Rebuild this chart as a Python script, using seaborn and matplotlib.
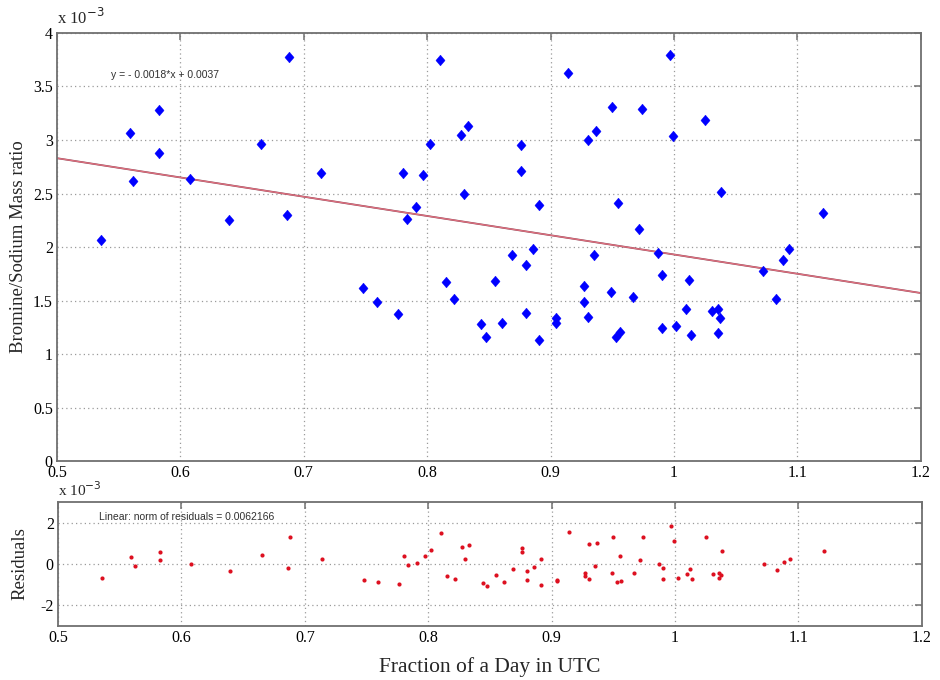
import numpy as np
import pandas as pd
import matplotlib
matplotlib.use("Agg")
import matplotlib.pyplot as plt
import seaborn as sns

# ---- data (ratio values are in units of 1e-3) ----
fraction_of_day = [
    0.536, 0.559, 0.562, 0.583, 0.583, 0.608, 0.639, 0.665, 0.688, 0.686,
    0.714, 0.748, 0.759, 0.776, 0.780, 0.784, 0.791, 0.797, 0.802, 0.810,
    0.815, 0.822, 0.827, 0.830, 0.833, 0.844, 0.848, 0.855, 0.861, 0.869,
    0.876, 0.876, 0.880, 0.880, 0.886, 0.891, 0.891, 0.904, 0.904, 0.914,
    0.927, 0.927, 0.930, 0.930, 0.935, 0.937, 0.949, 0.950, 0.953, 0.956,
    0.955, 0.967, 0.972, 0.974, 0.987, 0.990, 1.012, 1.010, 1.031, 1.036,
    1.037, 0.990, 1.002, 1.014, 1.036, 1.072, 1.088, 1.093, 1.083, 0.997,
    1.025, 0.999, 1.038, 1.121,
]
br_na_ratio_e3 = [
    2.07, 3.07, 2.62, 3.28, 2.88, 2.64, 2.25, 2.96, 3.78, 2.30,
    2.69, 1.62, 1.49, 1.37, 2.69, 2.26, 2.37, 2.67, 2.96, 3.75,
    1.67, 1.51, 3.05, 2.50, 3.13, 1.28, 1.16, 1.68, 1.29, 1.93,
    2.95, 2.71, 1.38, 1.83, 1.98, 2.39, 1.13, 1.34, 1.29, 3.63,
    1.64, 1.49, 3.00, 1.35, 1.93, 3.08, 1.58, 3.31, 1.16, 1.21,
    2.41, 1.53, 2.17, 3.29, 1.94, 1.74, 1.69, 1.42, 1.40, 1.42,
    1.34, 1.24, 1.26, 1.18, 1.20, 1.78, 1.88, 1.98, 1.51, 3.79,
    3.19, 3.04, 2.51, 2.32,
]
fit_slope_e3 = -1.8
fit_intercept_e3 = 3.73

x_ticks = [0.5, 0.6, 0.7, 0.8, 0.9, 1.0, 1.1, 1.2]
x_tick_labels = ["0.5", "0.6", "0.7", "0.8", "0.9", "1", "1.1", "1.2"]
y_ticks = [0, 0.5, 1, 1.5, 2, 2.5, 3, 3.5, 4]
y_tick_labels = ["0", "0.5", "1", "1.5", "2", "2.5", "3", "3.5", "4"]
res_ticks = [-2, 0, 2]
res_tick_labels = ["-2", "0", "2"]

fit_text = "y = - 0.0018*x + 0.0037"
norm_text = "Linear: norm of residuals = 0.0062166"

# ---- derived ----
df = pd.DataFrame({"x": fraction_of_day, "y": br_na_ratio_e3})
df["fit"] = fit_slope_e3 * df["x"] + fit_intercept_e3
df["res"] = df["y"] - df["fit"]
line_df = pd.DataFrame({"x": [x_ticks[0], x_ticks[-1]]})
line_df["y"] = fit_slope_e3 * line_df["x"] + fit_intercept_e3

sns.set_style("white")
plt.rcParams["font.family"] = ["Liberation Serif", "DejaVu Serif"]

fig = plt.figure(figsize=(9.4, 6.8), dpi=100)
ax1 = fig.add_axes([0.0606, 0.322, 0.919, 0.6295])
ax2 = fig.add_axes([0.0617, 0.0794, 0.919, 0.1824])

grid_kw = dict(color="#9a9a9a", linestyle=(0, (1, 2.5)), linewidth=0.9)
spine_color = "#707070"


def style(ax):
    ax.set_axisbelow(True)
    ax.grid(True, **grid_kw)
    for s in ax.spines.values():
        s.set_color(spine_color)
        s.set_linewidth(1.3)
    ax.tick_params(direction="in", length=5, width=1.1, color=spine_color,
                   top=True, right=True, labelsize=11.5, labelcolor="black",
                   pad=3)


diamond = [(0, 1), (0.85, 0), (0, -1), (-0.85, 0), (0, 1)]

# top panel
sns.lineplot(data=line_df, x="x", y="y", ax=ax1, color="#8a4a5a", linewidth=1.3)
sns.lineplot(data=line_df, x="x", y="y", ax=ax1, color="#e0707f", linewidth=0.9)
sns.scatterplot(data=df, x="x", y="y", ax=ax1, marker=diamond, s=60,
                color="#0000ff", edgecolor="#0000ff", linewidth=0.3, zorder=5)
ax1.set_xlim(0.5, 1.2)
ax1.set_ylim(0, 4)
ax1.set_xticks(x_ticks)
ax1.set_xticklabels(x_tick_labels)
ax1.set_yticks(y_ticks)
ax1.set_yticklabels(y_tick_labels)
ax1.set_xlabel("")
ax1.set_ylabel("Bromine/Sodium Mass ratio", fontsize=13.5, labelpad=4)
style(ax1)
ax1.text(0.0, 1.012, r"x 10$^{-3}$", transform=ax1.transAxes, fontsize=12,
         ha="left", va="bottom")
ax1.text(0.063, 0.903, fit_text, transform=ax1.transAxes, fontsize=7.5,
         family=["Liberation Sans", "DejaVu Sans"], color="#303030",
         ha="left", va="center")

# residual panel
sns.scatterplot(data=df, x="x", y="res", ax=ax2, marker="o", s=9,
                color="#dd1020", edgecolor="#dd1020", linewidth=0, zorder=5)
ax2.set_xlim(0.5, 1.2)
ax2.set_ylim(-3, 3)
ax2.set_xticks(x_ticks)
ax2.set_xticklabels(x_tick_labels)
ax2.set_yticks(res_ticks)
ax2.set_yticklabels(res_tick_labels)
ax2.set_ylabel("Residuals", fontsize=13.5, labelpad=9)
ax2.set_xlabel("Fraction of a Day in UTC", fontsize=15.5, labelpad=8)
style(ax2)
ax2.text(0.0, 1.02, r"x 10$^{-3}$", transform=ax2.transAxes, fontsize=11,
         ha="left", va="bottom")
ax2.text(0.048, 0.88, norm_text, transform=ax2.transAxes, fontsize=7.5,
         family=["Liberation Sans", "DejaVu Sans"], color="#303030",
         ha="left", va="center")

fig.savefig("out.png", dpi=100, facecolor="white")
